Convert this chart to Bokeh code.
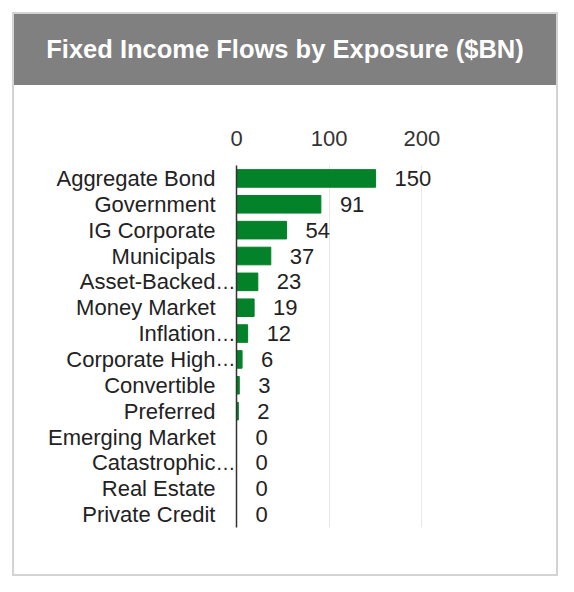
from bokeh.plotting import figure
from bokeh.models import FactorRange, Range1d, FixedTicker, Div, ColumnDataSource, CategoricalAxis
from bokeh.layouts import column
from bokeh.core.properties import value
from bokeh.embed import file_html
from bokeh.resources import INLINE

categories = ["Aggregate Bond", "Government", "IG Corporate", "Municipals",
              "Asset-Backed…", "Money Market", "Inflation…", "Corporate High…",
              "Convertible", "Preferred", "Emerging Market", "Catastrophic…",
              "Real Estate", "Private Credit"]
flows = [150, 91, 54, 37, 23, 19, 12, 6, 3, 2, 0, 0, 0, 0]
x_ticks = [0, 100, 200]
title_text = "Fixed Income Flows by Exposure ($BN)"

FONT = "Liberation Sans"
FS = "22px"

# names without the ellipsis; the ellipsis is drawn by a second axis so it hangs past the name
base = [c.rstrip("…") for c in categories]
ZW = "\u200b"
ell_factors = [("…" if c != b else "\u00a0") + ZW * (i + 1)
               for i, (c, b) in enumerate(zip(categories, base))]

src = ColumnDataSource(dict(cat=base, val=flows, lab=[str(v) for v in flows]))

title = Div(text=title_text, width=542, height=71, margin=(0, 0, 0, 0),
            styles={"background-color": "#808080", "color": "white",
                    "font-family": FONT, "font-weight": "bold", "font-size": "25.5px",
                    "text-align": "center", "line-height": "71px", "width": "542px"})

p = figure(y_range=FactorRange(*base[::-1]), x_range=Range1d(0, 220),
           width=542, height=489, output_backend="svg", toolbar_location=None,
           x_axis_location="above", y_axis_location=None,
           min_border_left=222, min_border_right=116,
           min_border_top=80, min_border_bottom=47)
p.extra_y_ranges = {"ell": FactorRange(*ell_factors[::-1])}
p.outline_line_color = None
p.hbar(y="cat", right="val", height=0.68, source=src, color="#03822a")
p.text(x="val", y="cat", text="lab", source=src, x_offset=19,
       text_baseline="middle", text_align="left", text_color="#222222",
       text_font=value(FONT), text_font_size=FS)

xa = p.xaxis[0]
xa.ticker = FixedTicker(ticks=x_ticks)
xa.axis_line_color = None
xa.major_tick_line_color = None
xa.minor_tick_line_color = None
xa.major_label_text_font = FONT
xa.major_label_text_font_size = FS
xa.major_label_text_color = "#333333"
xa.major_label_standoff = 14

# inner axis: the axis line plus the hanging ellipses
ya = CategoricalAxis(y_range_name="ell", axis_line_color="#333333", axis_line_width=1.5,
                     major_tick_line_color=None, minor_tick_line_color=None,
                     major_label_text_font=FONT, major_label_text_font_size="20px",
                     major_label_text_color="#222222", major_label_standoff=-5)
p.add_layout(ya, "left")

# outer axis: the category names
yb = CategoricalAxis(axis_line_color=None, major_tick_line_color=None,
                     minor_tick_line_color=None, major_label_text_font=FONT,
                     major_label_text_font_size=FS, major_label_text_color="#222222",
                     major_label_standoff=-9)
p.add_layout(yb, "left")

p.xgrid.grid_line_color = "#e8e8e8"
p.ygrid.grid_line_color = None

layout = column(title, p, margin=(12, 0, 0, 12),
                styles={"border": "2px solid #d3d3d3"})

open("out.html", "w").write(file_html(layout, INLINE))
